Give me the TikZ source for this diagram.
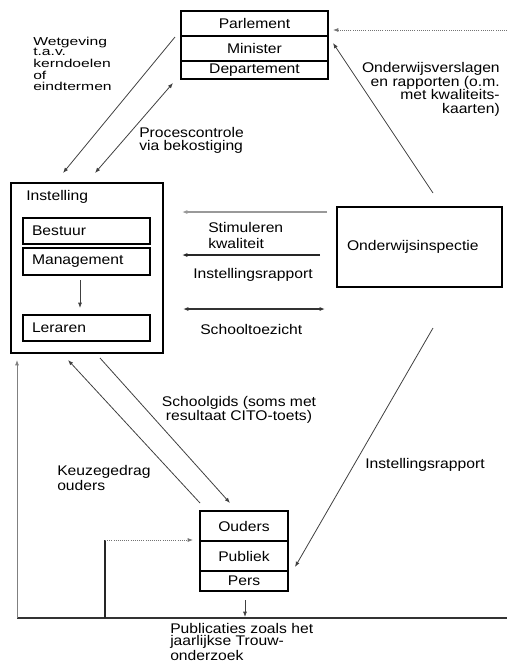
\documentclass[tikz,border=0pt]{standalone}
\usepackage{fontspec}
\setmainfont{Liberation Sans}[FakeStretch=1.12]
\usetikzlibrary{arrows.meta}
\begin{document}
\begin{tikzpicture}[x=0.75pt, y=-0.75pt,
	font=\fontsize{10.5}{12}\selectfont,
	box/.style={draw=black, line width=0.9pt, inner sep=0pt},
	row/.style={box, minimum width=110.25pt},
	part/.style={box, inner xsep=6.75pt, text width=81.75pt, align=left},
	lbl/.style={inner sep=0pt},
	tip/.style={-{Latex[length=4pt,width=3pt]}},
	thin/.style={draw=black!75, line width=0.6pt}]
	\useasboundingbox (0,0) rectangle (507,662);

	% ministerie
	\node[row, minimum height=18.75pt] (parlement) at (254.5, 23.5) {Parlement};
	\node[row, minimum height=18.75pt] (minister) at (254.5, 48.5) {Minister};
	\node[row, minimum height=13.5pt] (departement) at (254.5, 70) {Departement};

	% instelling
	\node[box, minimum width=114pt, minimum height=127.5pt] (instelling) at (87, 268) {};
	\node[lbl, anchor=base west] (instlbl) at (26, 200) {Instelling};
	\node[part, minimum height=19.5pt] (bestuur) at (86.5, 231) {Bestuur};
	\node[part, minimum height=20.25pt] (management) at (86.5, 261.5) {Management};
	\node[part, minimum height=19.5pt] (leraren) at (86.5, 328) {Leraren};

	% inspectie
	\node[box, inner xsep=7.5pt, text width=108.75pt, align=left, minimum height=60pt] (inspectie) at (419.5, 247) {Onderwijsinspectie};

	% ouders
	\node[box, minimum width=66pt, minimum height=22.5pt] (ouders) at (244, 526) {Ouders};
	\node[box, minimum width=66pt, minimum height=22.5pt] (publiek) at (244, 556) {Publiek};
	\node[box, minimum width=66pt, minimum height=15pt] (pers) at (244, 581) {Pers};

	% teksten (base = laatste regel)
	\node[lbl, anchor=base west] (wetgeving) at (33, 45) {\scalebox{1}[0.82]{\fontsize{10.5}{10}\selectfont\begin{tabular}[t]{@{}l@{}}Wetgeving\\t.a.v.\\kerndoelen\\of\\eindtermen\end{tabular}}};
	\node[lbl, anchor=base west, align=left, font=\fontsize{10.5}{9.5}\selectfont] (proces) at (139, 150) {Procescontrole\\via bekostiging};
	\node[lbl, anchor=base east, align=right, font=\fontsize{10.5}{10.1}\selectfont] (verslagen) at (500, 113) {Onderwijsverslagen\\en rapporten (o.m.\\met kwaliteits-\\kaarten)};
	\node[lbl, anchor=base west, align=left] (stimuleren) at (208, 248) {Stimuleren\\kwaliteit};
	\node[lbl, anchor=base west] (rapport) at (193, 278) {Instellingsrapport};
	\node[lbl, anchor=base west] (toezicht) at (200, 334) {Schooltoezicht};
	\node[lbl, anchor=base, align=center, font=\fontsize{10.5}{10.5}\selectfont] (schoolgids) at (239, 420) {Schoolgids (soms met\\resultaat CITO-toets)};
	\node[lbl, anchor=base west, align=left, font=\fontsize{10.5}{11.2}\selectfont] (keuze) at (57, 490) {Keuzegedrag\\ouders};
	\node[lbl, anchor=base west] (rapport2) at (365, 468) {Instellingsrapport};
	\node[lbl, anchor=base west, align=left, font=\fontsize{10.5}{9.4}\selectfont] (publicaties) at (170, 660) {Publicaties zoals het\\jaarlijkse Trouw-\\onderzoek};

	% eindpunten
	\coordinate (wetS) at (175, 37);
	\coordinate (wetE) at (63, 173);
	\coordinate (procS) at (95, 173);
	\coordinate (procE) at (173, 83);
	\coordinate (verslS) at (507, 30);
	\coordinate (verslE) at (333, 30);
	\coordinate (kaartS) at (433, 193);
	\coordinate (kaartE) at (333, 43);
	\coordinate (stimS) at (327, 212);
	\coordinate (stimE) at (182, 212);
	\coordinate (rapS) at (320, 255);
	\coordinate (rapE) at (182, 255);
	\coordinate (toezS) at (183, 309);
	\coordinate (toezE) at (325, 309);
	\coordinate (mgmtS) at (80, 280);
	\coordinate (mgmtE) at (80, 308);
	\coordinate (keuzeS) at (200, 503);
	\coordinate (keuzeE) at (68, 360);
	\coordinate (gidsS) at (100, 358);
	\coordinate (gidsE) at (230, 503);
	\coordinate (rap2S) at (433, 328);
	\coordinate (rap2E) at (295, 567);
	\coordinate (hoekL) at (17, 618);
	\coordinate (hoekR) at (507, 618);
	\coordinate (terug) at (17, 360);
	\coordinate (pubV) at (105, 618);
	\coordinate (pubH) at (105, 540);
	\coordinate (pubE) at (193, 540);
	\coordinate (persS) at (245, 600);
	\coordinate (persE) at (245, 617);

	% pijlen
	\draw[thin, tip] (wetS) -- (wetE);
	\draw[thin, {Latex[length=4pt,width=3pt]}-{Latex[length=4pt,width=3pt]}] (procS) -- (procE);
	\draw[draw=black!55, line width=0.6pt, densely dotted, tip] (verslS) -- (verslE);
	\draw[thin, tip] (kaartS) -- (kaartE);
	\draw[draw=black!40, line width=1.6pt, tip] (stimS) -- (stimE);
	\draw[draw=black!85, line width=1pt, tip] (rapS) -- (rapE);
	\draw[draw=black!80, line width=0.8pt, {Latex[length=4pt,width=3pt]}-{Latex[length=4pt,width=3pt]}] (toezS) -- (toezE);
	\draw[thin, tip] (mgmtS) -- (mgmtE);
	\draw[thin, tip] (keuzeS) -- (keuzeE);
	\draw[thin, tip] (gidsS) -- (gidsE);
	\draw[thin, tip] (rap2S) -- (rap2E);
	\draw[draw=black!80, line width=1.1pt] (hoekL) -- (hoekR);
	\draw[draw=black!50, line width=0.7pt, tip] (hoekL) -- (terug);
	\draw[draw=black!85, line width=0.9pt] (pubV) -- (pubH);
	\draw[draw=black!55, line width=0.6pt, densely dotted, tip] (pubH) -- (pubE);
	\draw[thin, tip] (persS) -- (persE);
\end{tikzpicture}
\end{document}
